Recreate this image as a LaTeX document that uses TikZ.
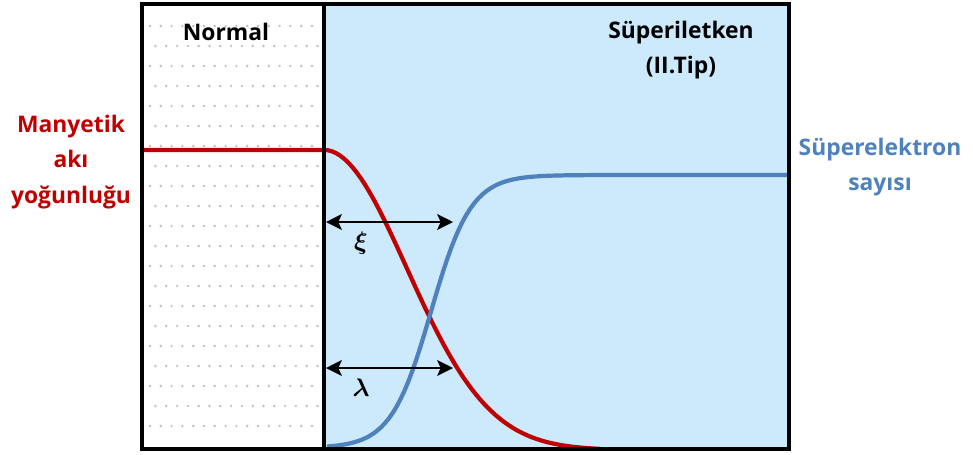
\documentclass[tikz,border=0pt]{standalone}
\usepackage{fontspec}
\setmainfont{Open Sans}
\usetikzlibrary{arrows.meta, positioning}
\definecolor{supblue}{RGB}{204,234,252}
\definecolor{fluxred}{RGB}{192,0,0}
\definecolor{elecblue}{RGB}{79,129,189}
\tikzstyle{title} = [font=\bfseries\fontsize{13}{20}\selectfont, align=center, text=black, inner sep=0pt]
\tikzstyle{fluxtext} = [title, text=fluxred]
\tikzstyle{electext} = [title, text=elecblue]
\tikzstyle{symbol} = [font=\fontsize{15}{18}\selectfont\mathversion{bold}, inner sep=0pt]
\tikzstyle{curve} = [line width=2.4pt]
\tikzstyle{arrow} = [line width=1.3pt, {Stealth[length=9pt,width=9pt,inset=2pt]}-{Stealth[length=9pt,width=9pt,inset=2pt]}]

\begin{document}
\begin{tikzpicture}[x=0.02cm, y=-0.02cm]
    \useasboundingbox (0,0) rectangle (973,454);

    % Regions
    \fill[white] (142,4) rectangle (324,449);
    \fill[supblue] (324,4) rectangle (789,449);
    \foreach \row in {0,...,20} {
        \pgfmathsetmacro{\shift}{mod(\row,2)*5.5}
        \foreach \col in {0,...,15}
            \fill[black!25] (150+\shift+10.8*\col, 26+20*\row) circle (0.75pt);
    }

    % Curves
    \draw[curve, fluxred] (142,150) -- (324,150)
        -- plot[domain=324:600, samples=70] (\x, {150+300*(1-exp(-((\x-324)/117)*((\x-324)/117)))});
    \draw[curve, elecblue] plot[domain=327:789, samples=120] (\x, {448-273*(0.5+0.5*tanh((\x-431)/40))});

    % Frame
    \draw[line width=1.8pt] (324,4) -- (324,449);
    \draw[line width=2.4pt] (142,4) rectangle (789,449);

    % Nodes
    \node (normal) [title] at (226,32) {Normal};
    \node (sup) [title] at (681,50) {Süperiletken\\(II.Tip)};
    \node (flux) [fluxtext] at (71,162) {Manyetik\\akı\\yoğunluğu};
    \node (elec) [electext] at (880,167) {Süperelektron\\sayısı};

    \coordinate (xiL) at (326,222);
    \coordinate (xiR) at (453,222);
    \coordinate (lamL) at (326,368);
    \coordinate (lamR) at (453,368);
    \node (xi) [symbol] at (361,243) {$\xi$};
    \node (lam) [symbol] at (361,388) {$\lambda$};

    % Arrows
    \draw [arrow] (xiL) -- (xiR);
    \draw [arrow] (lamL) -- (lamR);

\end{tikzpicture}
\end{document}
